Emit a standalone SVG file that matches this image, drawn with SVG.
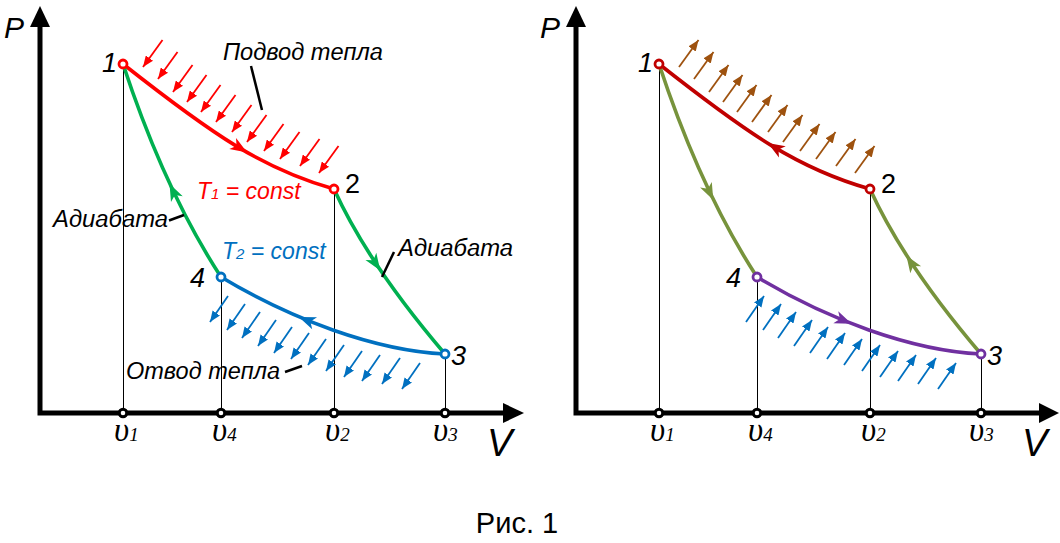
<svg xmlns="http://www.w3.org/2000/svg" width="1060" height="543" viewBox="0 0 1060 543">
<style>
.lbl{font-family:"Liberation Sans",Arial,sans-serif;font-style:italic;font-size:23px;fill:#000}
.num{font-family:"Liberation Sans",Arial,sans-serif;font-style:italic;font-size:27px;fill:#000}
.ax{font-family:"Liberation Sans",Arial,sans-serif;font-style:italic;fill:#000}
.vl{font-family:"Liberation Serif","Times New Roman",serif;font-style:italic;font-size:33px;fill:#000}
.vs{font-size:19px}
.axis{fill:none;stroke:#000;stroke-width:5}
.thin{stroke:#000;stroke-width:1;fill:none}
.tick{fill:#fff;stroke:#000;stroke-width:3}
.crv{fill:none;stroke-width:3.6}
.lead{stroke:#000;stroke-width:2.5;fill:none}
.pt{fill:#fff;stroke-width:2.8}
.ha{stroke-width:1.8;fill:none}
</style>
<defs>
<marker id="mR" markerUnits="userSpaceOnUse" markerWidth="11" markerHeight="9" viewBox="0 0 11 9" refX="11" refY="4.5" orient="auto"><path d="M0,0 L11,4.5 L0,9 z" fill="#FF0000"/></marker>
<marker id="mB" markerUnits="userSpaceOnUse" markerWidth="11" markerHeight="9" viewBox="0 0 11 9" refX="11" refY="4.5" orient="auto"><path d="M0,0 L11,4.5 L0,9 z" fill="#0070C0"/></marker>
<marker id="mO" markerUnits="userSpaceOnUse" markerWidth="11" markerHeight="9" viewBox="0 0 11 9" refX="11" refY="4.5" orient="auto"><path d="M0,0 L11,4.5 L0,9 z" fill="#9E520F"/></marker>
<path id="ah" d="M9,0 L-8,-6.5 L-3.5,0 L-8,6.5 Z"/>
</defs>

<!-- LEFT DIAGRAM -->
<g id="left-axes">
<polyline class="axis" points="40,24 40,413 506,413"/>
<polygon points="40,6 30,27 50,27" fill="#000"/>
<polygon points="524,413 503,403 503,423" fill="#000"/>
<text class="ax" x="4" y="38" font-size="30">P</text>
<text class="ax" x="487" y="456" font-size="38">V</text>
</g>
<g id="left-guides">
<line class="thin" x1="123.5" y1="64" x2="123.5" y2="413"/>
<line class="thin" x1="221.5" y1="277" x2="221.5" y2="413"/>
<line class="thin" x1="334.5" y1="189" x2="334.5" y2="413"/>
<line class="thin" x1="445.5" y1="354" x2="445.5" y2="413"/>
</g>
<g id="left-connectors">
<path id="l12" class="crv" stroke="#FF0000" d="M123,64 C213,135 263,169 334,189"/>
<use href="#ah" fill="#FF0000" transform="translate(239.5,147.7) rotate(31.4)"/>
<path id="l14" class="crv" stroke="#00B050" d="M123,64 C146,134 175.5,207 221,277"/>
<use href="#ah" fill="#00B050" transform="translate(173.4,191.9) rotate(244.4)"/>
<path id="l23" class="crv" stroke="#00B050" d="M334,189 C359,244 398,299 445,354"/>
<use href="#ah" fill="#00B050" transform="translate(375.3,263.1) rotate(56.5)"/>
<path id="l43" class="crv" stroke="#0070C0" d="M221,277 C291,319 374.5,350.5 445,354"/>
<use href="#ah" fill="#0070C0" transform="translate(307.2,320.3) rotate(202.1)"/>
</g>
<g id="left-heat-in" stroke="#FF0000" marker-end="url(#mR)">
<line class="ha" x1="162.5" y1="40" x2="143" y2="67"/>
<line class="ha" x1="177.5" y1="52" x2="158" y2="79"/>
<line class="ha" x1="192.5" y1="65" x2="173" y2="92"/>
<line class="ha" x1="206.5" y1="75" x2="187" y2="102"/>
<line class="ha" x1="220.5" y1="85" x2="201" y2="112"/>
<line class="ha" x1="235.5" y1="95" x2="216" y2="122"/>
<line class="ha" x1="251.5" y1="105" x2="232" y2="132"/>
<line class="ha" x1="266.5" y1="115" x2="247" y2="142"/>
<line class="ha" x1="283.5" y1="124" x2="264" y2="151"/>
<line class="ha" x1="299.5" y1="132" x2="280" y2="159"/>
<line class="ha" x1="319.5" y1="139" x2="300" y2="166"/>
<line class="ha" x1="338.5" y1="146" x2="319" y2="173"/>
</g>
<g id="left-heat-out" stroke="#0070C0" marker-end="url(#mB)">
<line class="ha" x1="228" y1="296" x2="210" y2="322"/>
<line class="ha" x1="245" y1="304" x2="227" y2="330"/>
<line class="ha" x1="260" y1="312" x2="242" y2="338"/>
<line class="ha" x1="276" y1="320" x2="258" y2="346"/>
<line class="ha" x1="292" y1="327" x2="274" y2="353"/>
<line class="ha" x1="309" y1="333" x2="291" y2="359"/>
<line class="ha" x1="326" y1="339" x2="308" y2="365"/>
<line class="ha" x1="344" y1="345" x2="326" y2="371"/>
<line class="ha" x1="362" y1="351" x2="344" y2="377"/>
<line class="ha" x1="380" y1="355" x2="362" y2="381"/>
<line class="ha" x1="400" y1="358" x2="382" y2="384"/>
<line class="ha" x1="420" y1="363" x2="402" y2="389"/>
</g>
<g id="left-labels">
<text class="lbl" x="223" y="60" textLength="160" lengthAdjust="spacingAndGlyphs">Подвод тепла</text>
<line class="lead" x1="251" y1="66" x2="262" y2="110"/>
<text class="lbl" x="197" y="198.5" style="fill:#FF0000">T<tspan font-size="15">1</tspan> = const</text>
<text class="lbl" x="222" y="259" style="fill:#0070C0">T<tspan font-size="15">2</tspan> = const</text>
<text class="lbl" x="53" y="227" textLength="115" lengthAdjust="spacingAndGlyphs">Адиабата</text>
<line class="lead" x1="169" y1="220.5" x2="184" y2="215"/>
<text class="lbl" x="398" y="256" textLength="115" lengthAdjust="spacingAndGlyphs">Адиабата</text>
<line class="lead" x1="382" y1="277" x2="394" y2="252"/>
<text class="lbl" x="126" y="379" textLength="154" lengthAdjust="spacingAndGlyphs">Отвод тепла</text>
<line class="lead" x1="285" y1="372" x2="302" y2="366"/>
</g>
<g id="left-node-1"><circle class="pt" stroke="#FF0000" cx="123" cy="64" r="4"/><text class="num" x="102" y="72">1</text></g>
<g id="left-node-2"><circle class="pt" stroke="#FF0000" cx="334" cy="189" r="4"/><text class="num" x="345" y="193" style="font-style:normal">2</text></g>
<g id="left-node-3"><circle class="pt" stroke="#0070C0" cx="445" cy="354" r="4"/><text class="num" x="451" y="365">3</text></g>
<g id="left-node-4"><circle class="pt" stroke="#0070C0" cx="221" cy="277" r="4"/><text class="num" x="190" y="287">4</text></g>
<g id="left-ticks">
<circle class="tick" cx="123" cy="413" r="3.8"/>
<circle class="tick" cx="221" cy="413" r="3.8"/>
<circle class="tick" cx="334" cy="413" r="3.8"/>
<circle class="tick" cx="445" cy="413" r="3.8"/>
<text class="vl" x="114" y="441">υ<tspan class="vs">1</tspan></text>
<text class="vl" x="212" y="441">υ<tspan class="vs">4</tspan></text>
<text class="vl" x="325" y="441">υ<tspan class="vs">2</tspan></text>
<text class="vl" x="433" y="441">υ<tspan class="vs">3</tspan></text>
</g>

<!-- RIGHT DIAGRAM -->
<g id="right-axes">
<polyline class="axis" points="576,24 576,413 1042,413"/>
<polygon points="576,6 566,27 586,27" fill="#000"/>
<polygon points="1059,413 1039,403 1039,423" fill="#000"/>
<text class="ax" x="540" y="38" font-size="30">P</text>
<text class="ax" x="1022" y="456" font-size="38">V</text>
</g>
<g id="right-guides" transform="translate(536,0)">
<line class="thin" x1="123.5" y1="64" x2="123.5" y2="413"/>
<line class="thin" x1="221.5" y1="277" x2="221.5" y2="413"/>
<line class="thin" x1="334.5" y1="189" x2="334.5" y2="413"/>
<line class="thin" x1="445.5" y1="354" x2="445.5" y2="413"/>
</g>
<g id="right-connectors" transform="translate(536,0)">
<path class="crv" stroke="#C00000" d="M123,64 C213,135 263,169 334,189"/>
<use href="#ah" fill="#C00000" transform="translate(239.5,147.7) rotate(211.4)"/>
<path class="crv" stroke="#77933C" d="M123,64 C146,134 175.5,207 221,277"/>
<use href="#ah" fill="#77933C" transform="translate(173.4,191.9) rotate(64.4)"/>
<path class="crv" stroke="#77933C" d="M334,189 C359,244 398,299 445,354"/>
<use href="#ah" fill="#77933C" transform="translate(375.3,263.1) rotate(236.5)"/>
<path class="crv" stroke="#7030A0" d="M221,277 C291,319 374.5,350.5 445,354"/>
<use href="#ah" fill="#7030A0" transform="translate(307.2,320.3) rotate(22.1)"/>
</g>
<g id="right-heat-out" stroke="#9E520F" marker-end="url(#mO)">
<line class="ha" x1="679" y1="67" x2="698.5" y2="40"/>
<line class="ha" x1="694" y1="79" x2="713.5" y2="52"/>
<line class="ha" x1="709" y1="92" x2="728.5" y2="65"/>
<line class="ha" x1="723" y1="102" x2="742.5" y2="75"/>
<line class="ha" x1="737" y1="112" x2="756.5" y2="85"/>
<line class="ha" x1="752" y1="122" x2="771.5" y2="95"/>
<line class="ha" x1="768" y1="132" x2="787.5" y2="105"/>
<line class="ha" x1="783" y1="142" x2="802.5" y2="115"/>
<line class="ha" x1="800" y1="151" x2="819.5" y2="124"/>
<line class="ha" x1="816" y1="159" x2="835.5" y2="132"/>
<line class="ha" x1="836" y1="166" x2="855.5" y2="139"/>
<line class="ha" x1="855" y1="173" x2="874.5" y2="146"/>
</g>
<g id="right-heat-in" stroke="#0070C0" marker-end="url(#mB)">
<line class="ha" x1="746" y1="322" x2="764" y2="296"/>
<line class="ha" x1="763" y1="330" x2="781" y2="304"/>
<line class="ha" x1="778" y1="338" x2="796" y2="312"/>
<line class="ha" x1="794" y1="346" x2="812" y2="320"/>
<line class="ha" x1="810" y1="353" x2="828" y2="327"/>
<line class="ha" x1="827" y1="359" x2="845" y2="333"/>
<line class="ha" x1="844" y1="365" x2="862" y2="339"/>
<line class="ha" x1="862" y1="371" x2="880" y2="345"/>
<line class="ha" x1="880" y1="377" x2="898" y2="351"/>
<line class="ha" x1="898" y1="381" x2="916" y2="355"/>
<line class="ha" x1="918" y1="384" x2="936" y2="358"/>
<line class="ha" x1="938" y1="389" x2="956" y2="363"/>
</g>
<g id="right-node-1"><circle class="pt" stroke="#C00000" cx="659" cy="64" r="4"/><text class="num" x="638" y="72">1</text></g>
<g id="right-node-2"><circle class="pt" stroke="#C00000" cx="870" cy="189" r="4"/><text class="num" x="881" y="193" style="font-style:normal">2</text></g>
<g id="right-node-3"><circle class="pt" stroke="#7030A0" cx="981" cy="354" r="4"/><text class="num" x="987" y="365">3</text></g>
<g id="right-node-4"><circle class="pt" stroke="#7030A0" cx="757" cy="277" r="4"/><text class="num" x="726" y="287">4</text></g>
<g id="right-ticks">
<circle class="tick" cx="659" cy="413" r="3.8"/>
<circle class="tick" cx="757" cy="413" r="3.8"/>
<circle class="tick" cx="870" cy="413" r="3.8"/>
<circle class="tick" cx="981" cy="413" r="3.8"/>
<text class="vl" x="650" y="441">υ<tspan class="vs">1</tspan></text>
<text class="vl" x="748" y="441">υ<tspan class="vs">4</tspan></text>
<text class="vl" x="861" y="441">υ<tspan class="vs">2</tspan></text>
<text class="vl" x="969" y="441">υ<tspan class="vs">3</tspan></text>
</g>

<g id="caption">
<text x="517" y="533" text-anchor="middle" font-family="Liberation Sans, Arial, sans-serif" font-size="29">Рис. 1</text>
</g>
</svg>
